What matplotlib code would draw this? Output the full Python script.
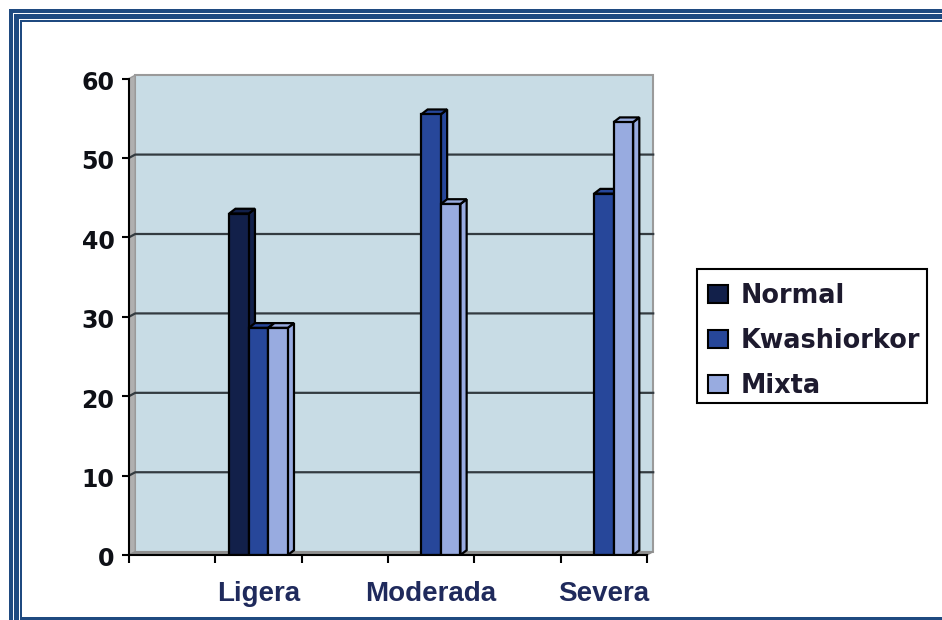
import matplotlib
matplotlib.use('Agg')
import matplotlib.pyplot as plt
from matplotlib.patches import Patch, Polygon, Rectangle
from matplotlib.transforms import ScaledTranslation

# values
categories = ['', 'Ligera', '', 'Moderada', '', 'Severa']
normal = [0, 43, 0, 0, 0, 0]
kwashiorkor = [0, 28.6, 0, 55.5, 0, 45.5]
mixta = [0, 28.6, 0, 44.2, 0, 54.5]
y_ticks = [0, 10, 20, 30, 40, 50, 60]

series = [('Normal', normal, '#12204a'),
          ('Kwashiorkor', kwashiorkor, '#27479a'),
          ('Mixta', mixta, '#98abe0')]

W, H = 942, 620
BAR_W = 0.226
DX, DY = 0.072, 0.42  # depth of the fake 3D, in data units
BAR_DY = 0.6
BLUE = '#1f4a80'
TEXT = '#1f2a5c'

fig = plt.figure(figsize=(W / 100, H / 100), dpi=100)
ax = fig.add_axes([129 / W, (H - 555) / H, 518 / W, 476.5 / H])
ax.set_xlim(0, 6)
ax.set_ylim(0, 60)

# back wall, side wall and floor
ax.add_patch(Rectangle((DX, DY), 6, 60, fc='#c8dce5', ec='#9a9a9a', lw=1.5, clip_on=False, zorder=1))
ax.add_patch(Polygon([(0, 0), (DX, DY), (DX, 60 + DY), (0, 60)], fc='#b0b0b0', ec='#9a9a9a', lw=1, clip_on=False, zorder=1))
ax.add_patch(Polygon([(0, 0), (6, 0), (6 + DX, DY), (DX, DY)], fc='#8f8f8f', ec='#8f8f8f', lw=1, clip_on=False, zorder=1))

# grid lines sit on the back wall
for t in y_ticks[1:-1]:
    ax.plot([0, DX, 6 + DX], [t, t + DY, t + DY], color='#333b40', lw=1.6, clip_on=False, zorder=2)

# bars, left to right so each one hides the side of the previous
for s, (name, vals, col) in enumerate(series):
    for i, v in enumerate(vals):
        if v == 0:
            continue
        x0 = i + 0.5 + (s - 1.5) * BAR_W
        x1 = x0 + BAR_W
        z = 3 + s
        ax.add_patch(Polygon([(x1, 0), (x1 + DX, BAR_DY), (x1 + DX, v + BAR_DY), (x1, v)],
                             fc=col, ec='black', lw=1.6, clip_on=False, zorder=z))
        ax.add_patch(Polygon([(x0, v), (x0 + DX, v + BAR_DY), (x1 + DX, v + BAR_DY), (x1, v)],
                             fc=col, ec='black', lw=1.6, clip_on=False, zorder=z))
        ax.bar(x0, v, BAR_W, align='edge', color=col, edgecolor='black', lw=1.6, zorder=z)

ax.set_xlim(0, 6)
ax.set_ylim(0, 60)
ax.patch.set_visible(False)
for side in ['top', 'right']:
    ax.spines[side].set_visible(False)
for side in ['left', 'bottom']:
    ax.spines[side].set_linewidth(1.5)
    ax.spines[side].set_zorder(10)

ax.set_yticks(y_ticks)
ax.tick_params(axis='y', length=5, width=1.5, pad=5.5)
# the numbers sit a little under their ticks
shift = ScaledTranslation(0, -2 / 100, fig.dpi_scale_trans)
for lab in ax.get_yticklabels():
    lab.set_fontsize(17)
    lab.set_fontweight('bold')
    lab.set_color('#0e1016')
    lab.set_transform(lab.get_transform() + shift)

ax.set_xticks(range(7))
ax.set_xticklabels([])
ax.tick_params(axis='x', which='major', length=6, width=1.5)
ax.set_xticks([i + 0.5 for i in range(6)], minor=True)
ax.set_xticklabels(categories, minor=True, fontsize=20, fontweight='bold',
                   family='Liberation Sans', color=TEXT)
ax.tick_params(axis='x', which='minor', length=0, pad=18.5)

# legend box drawn apart so the rows can sit low in it like the original
fig.add_artist(Rectangle((697 / W, 1 - 403 / H), 230 / W, 134 / H, transform=fig.transFigure,
                         fc='white', ec='black', lw=1.5))
handles = [Patch(fc=col, ec='black', lw=1.5, label=name) for name, vals, col in series]
leg = fig.legend(handles=handles, loc='upper left', bbox_to_anchor=(697 / W, 1 - 272 / H),
                 bbox_transform=fig.transFigure, fontsize=18.4, frameon=False,
                 borderaxespad=0, handlelength=0.78, handleheight=0.72,
                 handletextpad=0.5, labelspacing=0.75, borderpad=0.42)
for txt in leg.get_texts():
    txt.set_fontweight('bold')
    txt.set_color('#1d1a2e')

# double border around the slide, open on the right
def band(x, y, w, h):
    fig.add_artist(Rectangle((x / W, 1 - (y + h) / H), w / W, h / H, transform=fig.transFigure,
                             fc=BLUE, ec='none'))

for start, end in [(9, 12.7), (14, 19), (20, 22)]:
    band(start, start, W - start, end - start)
    band(start, start, end - start, H - start)
band(22, 617.3, W - 22, 2.7)

fig.savefig('out.png', dpi=100)
